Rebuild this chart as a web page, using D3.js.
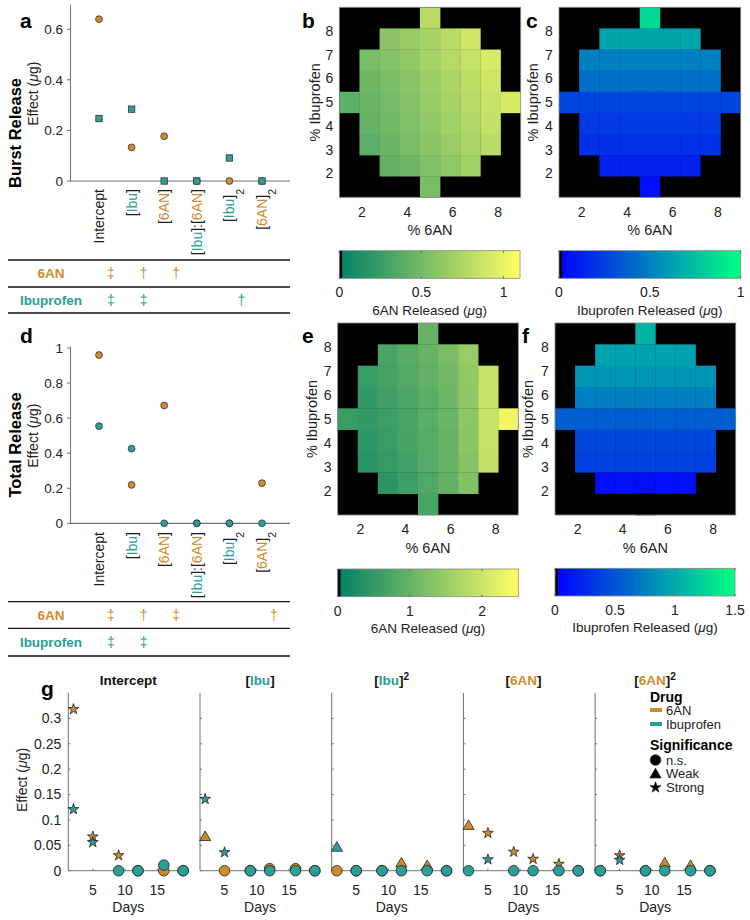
<!DOCTYPE html>
<html><head><meta charset="utf-8">
<script src="https://cdn.jsdelivr.net/npm/d3@7"></script>
<style>
body{margin:0;background:#fff}
svg{font-family:"Liberation Sans",Arial,Helvetica,sans-serif}
</style>
</head><body>
<svg id="chart" width="750" height="920"></svg>
<script>
// ---------------- DATA ----------------
const terms = ["Intercept","[Ibu]","[6AN]","[Ibu]:[6AN]","[Ibu]^2","[6AN]^2"];
const burst6AN = [0.64, 0.133, 0.177, 0, 0, 0];
const burstIbu = [0.247, 0.284, 0, 0, 0.091, 0];
const total6AN = [0.96, 0.219, 0.672, 0, 0, 0.229];
const totalIbu = [0.554, 0.426, 0, 0, 0, 0];
const sigBurst6AN = ["‡","†","†","","",""];
const sigBurstIbu = ["‡","‡","","","†",""];
const sigTotal6AN = ["‡","†","‡","","","†"];
const sigTotalIbu = ["‡","‡","","","",""];
const burstTicks = [0, 0.2, 0.4, 0.6];
const totalTicks = [0, 0.2, 0.4, 0.6, 0.8, 1];

// heat maps: rows from %Ibuprofen = 9 (top) down to 1 (bottom); columns %6AN = 1..9
const n = null;
const burstMap6AN = [
 [n,n,n,n,0.79,n,n,n,n],
 [n,n,0.60,0.65,0.72,0.80,0.88,n,n],
 [n,0.52,0.57,0.63,0.71,0.78,0.85,0.93,n],
 [n,0.48,0.53,0.60,0.67,0.74,0.81,0.88,n],
 [0.40,0.46,0.51,0.58,0.65,0.72,0.79,0.86,0.93],
 [n,0.44,0.49,0.55,0.62,0.69,0.76,0.84,n],
 [n,0.40,0.46,0.53,0.60,0.66,0.73,0.80,n],
 [n,n,0.42,0.48,0.55,0.62,0.70,n,n],
 [n,n,n,n,0.52,n,n,n,n]
];
const burstMapIbu = [
 [n,n,n,n,0.85,n,n,n,n],
 [n,n,0.65,0.65,0.65,0.65,0.65,n,n],
 [n,0.50,0.50,0.50,0.50,0.50,0.50,0.50,n],
 [n,0.44,0.44,0.44,0.44,0.44,0.44,0.44,n],
 [0.27,0.27,0.27,0.27,0.27,0.27,0.27,0.27,0.27],
 [n,0.23,0.23,0.23,0.23,0.23,0.23,0.23,n],
 [n,0.19,0.19,0.19,0.19,0.19,0.19,0.19,n],
 [n,n,0.13,0.13,0.13,0.13,0.13,n,n],
 [n,n,n,n,0.06,n,n,n,n]
];
const totalMap6AN = [
 [n,n,n,n,1.00,n,n,n,n],
 [n,n,0.72,0.85,1.00,1.20,1.50,n,n],
 [n,0.55,0.68,0.80,0.95,1.12,1.42,1.95,n],
 [n,0.50,0.62,0.75,0.90,1.08,1.40,1.95,n],
 [0.57,0.48,0.60,0.72,0.88,1.05,1.38,1.95,2.35],
 [n,0.45,0.57,0.70,0.85,1.02,1.35,1.92,n],
 [n,0.40,0.52,0.65,0.82,1.00,1.32,1.90,n],
 [n,n,0.42,0.60,0.78,0.95,1.28,n,n],
 [n,n,n,n,0.72,n,n,n,n]
];
const totalMapIbu = [
 [n,n,n,n,1.05,n,n,n,n],
 [n,n,0.95,0.95,0.95,0.95,0.95,n,n],
 [n,0.89,0.89,0.89,0.89,0.89,0.89,0.89,n],
 [n,0.75,0.75,0.75,0.75,0.75,0.75,0.75,n],
 [0.56,0.56,0.56,0.56,0.56,0.56,0.56,0.56,0.56],
 [n,0.42,0.42,0.42,0.42,0.42,0.42,0.42,n],
 [n,0.38,0.38,0.38,0.38,0.38,0.38,0.38,n],
 [n,n,0.09,0.09,0.09,0.09,0.09,n,n],
 [n,n,n,n,0,n,n,n,n]
];
const pctTicksX = [2,4,6,8];
const pctTicksY = [2,3,4,5,6,7,8];

// panel g
const gTerms = ["Intercept","[Ibu]","[Ibu]^2","[6AN]","[6AN]^2"];
const days = [2,5,9,12,16,19];
const g6AN = [
 [0.318,0.067,0.030,0,0,0],
 [0.068,0,0,0.004,0.004,0],
 [0,0,0,0.016,0.011,0],
 [0.090,0.074,0.037,0.023,0.013,0],
 [0,0.030,0,0.016,0.011,0]
];
const gSig6AN = [
 ["S","S","S","N","N","N"],
 ["W","N","N","N","N","N"],
 ["N","N","N","W","W","N"],
 ["W","S","S","S","S","N"],
 ["N","S","N","W","W","N"]
];
const gIbu = [
 [0.121,0.056,0,0,0.011,0],
 [0.141,0.036,0,0,0,0],
 [0.047,0,0,0,0,0],
 [0,0.022,0,0,0,0],
 [0,0.021,0,0,0,0]
];
const gSigIbu = [
 ["S","S","N","N","N","N"],
 ["S","S","N","N","N","N"],
 ["W","N","N","N","N","N"],
 ["N","S","N","N","N","N"],
 ["N","S","N","N","N","N"]
];
const gTicksY = [0,0.05,0.1,0.15,0.2,0.25,0.3];
const gTicksX = [5,10,15];

// ---------------- STYLE ----------------
const ORANGE = "#cf8a2c", TEAL = "#2a9e97", AXIS = "#707070", TXT = "#222";
const svg = d3.select("#chart");

function rich(t, str, base, supShift) {
  str.split(/(Ibu|6AN|\^2)/).filter(s => s !== "").forEach(p => {
    if (p === "^2") {
      t.append("tspan").attr("dy", supShift || "-0.45em").attr("font-size", "0.75em").attr("fill", base).text("2");
    } else {
      t.append("tspan").attr("fill", p === "Ibu" ? TEAL : p === "6AN" ? ORANGE : base).text(p);
    }
  });
}
function muLabel(t, pre) {
  t.append("tspan").text(pre + " (");
  t.append("tspan").attr("font-style", "italic").text("μ");
  t.append("tspan").text("g)");
}
function letter(x, y, s) {
  svg.append("text").attr("x", x).attr("y", y).attr("font-size", 21).attr("font-weight", "bold").attr("fill", "#000").text(s);
}

// ---------------- PANELS a / d ----------------
function effectPanel(cfg) {
  const g = svg.append("g");
  const y = d3.scaleLinear().domain([0, cfg.ymax]).range([cfg.y0, cfg.y1]);
  const x = d3.scalePoint().domain(terms).range([99, 262]);
  g.append("line").attr("x1", 70.5).attr("x2", 70.5).attr("y1", cfg.y0).attr("y2", cfg.y1 - 1.5).attr("stroke", AXIS);
  cfg.ticks.forEach(v => {
    g.append("line").attr("x1", 67).attr("x2", 70.5).attr("y1", y(v)).attr("y2", y(v)).attr("stroke", AXIS);
    g.append("text").attr("x", 63).attr("y", y(v)).attr("dy", "0.35em").attr("text-anchor", "end")
      .attr("font-size", 13.5).attr("fill", TXT).text(d3.format("~g")(v));
  });
  g.append("line").attr("x1", 70).attr("x2", 290).attr("y1", y(0)).attr("y2", y(0)).attr("stroke", AXIS).attr("stroke-width", 1.2);
  const mid = (cfg.y0 + cfg.y1) / 2;
  muLabel(g.append("text").attr("transform", `translate(33,${mid}) rotate(-90)`).attr("text-anchor", "middle")
    .attr("dy", "0.35em").attr("font-size", 14).attr("fill", TXT), "Effect");
  g.append("text").attr("transform", `translate(15,${cfg.titleY}) rotate(-90)`).attr("text-anchor", "middle")
    .attr("dy", "0.35em").attr("font-size", 16.5).attr("font-weight", "bold").attr("fill", "#000").text(cfg.title);
  terms.forEach(tm => {
    const t = g.append("text").attr("transform", `translate(${x(tm)},${cfg.labY}) rotate(-90)`)
      .attr("text-anchor", "end").attr("dy", "0.35em").attr("font-size", 14);
    rich(t, tm, "#1a1a1a", "0.9em");
  });
  cfg.v6.forEach((v, i) => {
    g.append("circle").attr("cx", x(terms[i])).attr("cy", y(v)).attr("r", 3.4)
      .attr("fill", ORANGE).attr("stroke", "#333").attr("stroke-width", 0.8);
  });
  cfg.vI.forEach((v, i) => {
    if (cfg.square) {
      g.append("rect").attr("x", x(terms[i]) - 3.2).attr("y", y(v) - 3.2).attr("width", 6.4).attr("height", 6.4)
        .attr("fill", TEAL).attr("stroke", "#333").attr("stroke-width", 0.8);
    } else {
      g.append("circle").attr("cx", x(terms[i])).attr("cy", y(v)).attr("r", 3.4)
        .attr("fill", TEAL).attr("stroke", "#333").attr("stroke-width", 0.8);
    }
  });
  const tl = cfg.tableY;
  tl.forEach(yy => g.append("line").attr("x1", 8).attr("x2", 290).attr("y1", yy).attr("y2", yy)
    .attr("stroke", "#111").attr("stroke-width", 1.3));
  const rows = [[ "6AN", ORANGE, cfg.s6, (tl[0] + tl[1]) / 2 ], [ "Ibuprofen", TEAL, cfg.sI, (tl[1] + tl[2]) / 2 ]];
  rows.forEach(([name, col, sig, yy]) => {
    g.append("text").attr("x", 51).attr("y", yy).attr("dy", "0.35em").attr("text-anchor", "middle")
      .attr("font-size", 13.5).attr("font-weight", "bold").attr("fill", col).text(name);
    sig.forEach((s, i) => {
      if (s) g.append("text").attr("x", x(terms[i]) + 12).attr("y", yy).attr("dy", "0.35em").attr("text-anchor", "middle")
        .attr("font-size", 14).attr("fill", col).text(s);
    });
  });
}

effectPanel({ y0: 181, y1: 6.5, ymax: 0.69, ticks: burstTicks, title: "Burst Release", titleY: 133, labY: 189,
  v6: burst6AN, vI: burstIbu, square: true, s6: sigBurst6AN, sI: sigBurstIbu, tableY: [260, 287, 313] });
effectPanel({ y0: 523.3, y1: 348, ymax: 1, ticks: totalTicks, title: "Total Release", titleY: 445, labY: 532,
  v6: total6AN, vI: totalIbu, square: false, s6: sigTotal6AN, sI: sigTotalIbu, tableY: [601.7, 628.3, 656] });

// ---------------- HEAT MAPS ----------------
const summer = max => d3.scaleLinear().domain([0, max]).range(["#008066", "#ffff66"]);
const winter = max => d3.scaleLinear().domain([0, max]).range(["#0000ff", "#00ff80"]);

function heatmap(grid, x0, y0, w, h, cs, vmax, ylabX) {
  const g = svg.append("g");
  const xb = d3.scaleBand().domain(d3.range(9)).range([x0, x0 + w]);
  const yb = d3.scaleBand().domain(d3.range(9)).range([y0, y0 + h]);
  g.append("rect").attr("x", x0).attr("y", y0).attr("width", w).attr("height", h).attr("fill", "#000");
  const cells = grid.flatMap((row, r) => row.map((v, c) => ({ r, c, v }))).filter(d => d.v !== null);
  g.selectAll("rect.cell").data(cells).join("rect").attr("class", "cell")
    .attr("x", d => xb(d.c)).attr("y", d => yb(d.r)).attr("width", xb.bandwidth() + 0.3).attr("height", yb.bandwidth() + 0.3)
    .attr("fill", d => d.v <= vmax / 64 ? "#000" : cs(d.v));
  g.append("rect").attr("x", x0).attr("y", y0).attr("width", w).attr("height", h).attr("fill", "none").attr("stroke", "#888").attr("stroke-width", 0.8);
  const xl = d3.scaleLinear().domain([1, 9]).range([x0, x0 + w]);
  const yl = d3.scaleLinear().domain([1, 9]).range([y0 + h, y0]);
  pctTicksX.forEach(v => g.append("text").attr("x", xl(v)).attr("y", y0 + h + 14.5).attr("dy", "0.35em")
    .attr("text-anchor", "middle").attr("font-size", 14).attr("fill", TXT).text(v));
  pctTicksY.forEach(v => g.append("text").attr("x", x0 - 10).attr("y", yl(v)).attr("dy", "0.35em")
    .attr("text-anchor", "middle").attr("font-size", 14).attr("fill", TXT).text(v));
  g.append("text").attr("x", x0 + w / 2).attr("y", y0 + h + 32.5).attr("dy", "0.35em").attr("text-anchor", "middle")
    .attr("font-size", 14.5).attr("fill", TXT).text("% 6AN");
  g.append("text").attr("transform", `translate(${ylabX},${y0 + h / 2}) rotate(-90)`).attr("dy", "0.35em")
    .attr("text-anchor", "middle").attr("font-size", 14.5).attr("fill", TXT).text("% Ibuprofen");
}

let gradId = 0;
function colorbar(x0, y0, w, h, cs, vmax, ticks, label) {
  const g = svg.append("g");
  const id = "grad" + (gradId++);
  const lg = svg.append("defs").append("linearGradient").attr("id", id);
  d3.range(11).forEach(i => lg.append("stop").attr("offset", i / 10).attr("stop-color", cs(vmax * i / 10)));
  g.append("rect").attr("x", x0).attr("y", y0).attr("width", w).attr("height", h).attr("fill", `url(#${id})`);
  g.append("rect").attr("x", x0).attr("y", y0).attr("width", w / 64).attr("height", h).attr("fill", "#000");
  g.append("rect").attr("x", x0).attr("y", y0).attr("width", w).attr("height", h).attr("fill", "none").attr("stroke", "#888").attr("stroke-width", 0.8);
  const sx = d3.scaleLinear().domain([0, vmax]).range([x0, x0 + w]);
  ticks.forEach(v => {
    g.append("line").attr("x1", sx(v)).attr("x2", sx(v)).attr("y1", y0 + h).attr("y2", y0 + h - 2).attr("stroke", "#666");
    g.append("line").attr("x1", sx(v)).attr("x2", sx(v)).attr("y1", y0).attr("y2", y0 + 2).attr("stroke", "#666");
    g.append("text").attr("x", sx(v)).attr("y", y0 + h + 14).attr("dy", "0.35em").attr("text-anchor", "middle")
      .attr("font-size", 14).attr("fill", TXT).text(d3.format("~g")(v));
  });
  muLabel(g.append("text").attr("x", x0 + w / 2).attr("y", y0 + h + 31.5).attr("dy", "0.35em").attr("text-anchor", "middle")
    .attr("font-size", 13.5).attr("fill", TXT), label);
}

heatmap(burstMap6AN, 339.3, 7.3, 181.4, 190, summer(1.1), 1.1, 315);
heatmap(burstMapIbu, 559, 7.3, 181.7, 190, winter(1), 1, 533);
heatmap(totalMap6AN, 337.7, 323, 180.6, 192, summer(2.5), 2.5, 312);
heatmap(totalMapIbu, 555, 323, 180.7, 192, winter(1.5), 1.5, 528);
colorbar(339.3, 250.7, 180.7, 27.6, summer(1.1), 1.1, [0, 0.5, 1], "6AN Released");
colorbar(559, 250.7, 181.7, 27.6, winter(1), 1, [0, 0.5, 1], "Ibuprofen Released");
colorbar(337.7, 569, 180.6, 27.7, summer(2.5), 2.5, [0, 1, 2], "6AN Released");
colorbar(555, 568.3, 180, 27.7, winter(1.5), 1.5, [0, 0.5, 1, 1.5], "Ibuprofen Released");

// ---------------- PANEL g ----------------
const gy = d3.scaleLinear().domain([0, 0.35]).range([870.7, 693]);
const triPath = "M0,-5.2L5.6,4.4L-5.6,4.4Z";
function drawMarker(g, type, cx, cy, fill) {
  if (type === "N") g.append("circle").attr("cx", cx).attr("cy", cy).attr("r", 5.3).attr("fill", fill).attr("stroke", "#222").attr("stroke-width", 0.8);
  else if (type === "W") g.append("path").attr("d", triPath).attr("transform", `translate(${cx},${cy})`).attr("fill", fill).attr("stroke", "#222").attr("stroke-width", 0.8);
  else g.append("path").attr("d", d3.symbol(d3.symbolStar, 36)()).attr("transform", `translate(${cx},${cy})`).attr("fill", fill).attr("stroke", "#222").attr("stroke-width", 0.8);
}
gTerms.forEach((tm, k) => {
  const g = svg.append("g");
  const x0 = 68.3 + k * 131.7;
  const gx = d3.scaleLinear().domain([1.2, 19.8]).range([x0, x0 + 120]);
  g.append("line").attr("x1", x0).attr("x2", x0).attr("y1", gy(0)).attr("y2", gy(0.35)).attr("stroke", AXIS);
  g.append("line").attr("x1", x0).attr("x2", x0 + 120).attr("y1", gy(0)).attr("y2", gy(0)).attr("stroke", AXIS);
  gTicksY.forEach(v => {
    g.append("line").attr("x1", x0).attr("x2", x0 + 2).attr("y1", gy(v)).attr("y2", gy(v)).attr("stroke", AXIS);
    if (k === 0) g.append("text").attr("x", x0 - 7).attr("y", gy(v)).attr("dy", "0.35em").attr("text-anchor", "end")
      .attr("font-size", 14).attr("fill", TXT).text(d3.format("~g")(v));
  });
  gTicksX.forEach(v => {
    g.append("line").attr("x1", gx(v)).attr("x2", gx(v)).attr("y1", gy(0)).attr("y2", gy(0) - 2).attr("stroke", AXIS);
    g.append("text").attr("x", gx(v)).attr("y", 890).attr("dy", "0.35em").attr("text-anchor", "middle")
      .attr("font-size", 14).attr("fill", TXT).text(v);
  });
  g.append("text").attr("x", x0 + 60).attr("y", 907.5).attr("dy", "0.35em").attr("text-anchor", "middle")
    .attr("font-size", 14).attr("fill", TXT).text("Days");
  const t = g.append("text").attr("x", x0 + 60).attr("y", 684.5).attr("text-anchor", "middle")
    .attr("font-size", 13.5).attr("font-weight", "bold");
  rich(t, tm, "#111");
  days.forEach((d, i) => drawMarker(g, gSig6AN[k][i], gx(d), gy(g6AN[k][i]), ORANGE));
  days.forEach((d, i) => drawMarker(g, gSigIbu[k][i], gx(d), gy(gIbu[k][i]), TEAL));
});
muLabel(svg.append("text").attr("transform", `translate(22,780) rotate(-90)`).attr("text-anchor", "middle")
  .attr("dy", "0.35em").attr("font-size", 14).attr("fill", TXT), "Effect");

// legend
const lg = svg.append("g");
lg.append("text").attr("x", 650).attr("y", 701.5).attr("font-size", 14).attr("font-weight", "bold").text("Drug");
[["6AN", ORANGE, 710], ["Ibuprofen", TEAL, 724]].forEach(([s, c, yy]) => {
  lg.append("rect").attr("x", 650).attr("y", yy - 2).attr("width", 12).attr("height", 4).attr("fill", c);
  lg.append("text").attr("x", 666).attr("y", yy).attr("dy", "0.35em").attr("font-size", 13).attr("fill", TXT).text(s);
});
lg.append("text").attr("x", 650).attr("y", 745.5).attr("dy", "0.35em").attr("font-size", 14).attr("font-weight", "bold").text("Significance");
[["N", "n.s.", 760], ["W", "Weak", 773.5], ["S", "Strong", 787.5]].forEach(([ty, s, yy]) => {
  drawMarker(lg, ty, 655.5, yy, "#000");
  lg.append("text").attr("x", 666).attr("y", yy).attr("dy", "0.35em").attr("font-size", 13).attr("fill", TXT).text(s);
});

// panel letters
letter(20, 28, "a"); letter(302, 28, "b"); letter(526, 28, "c");
letter(20, 343, "d"); letter(302, 343, "e"); letter(522, 343, "f");
letter(41, 696, "g");
</script>
</body></html>
